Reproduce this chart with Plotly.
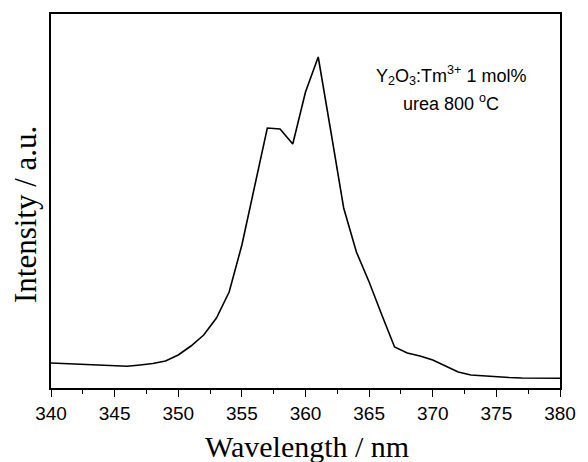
import plotly.graph_objects as go

wavelength = list(range(340, 381))
intensity = [25, 24.5, 24, 23.5, 22.5, 22, 21.7, 23, 24.5, 27,
             33, 42, 53, 70, 96, 143, 203, 260, 259, 244,
             296, 331, 256, 180, 136, 106, 73, 41, 35, 32,
             28, 22, 16, 13, 12, 11, 10.5, 10, 10, 9.7, 9.7]
x_ticks = [340, 345, 350, 355, 360, 365, 370, 375, 380]

L, R, T, B = 51, 560, 14, 388
W, H = 588, 462
pw, ph = R - L, B - T

def px(xp):
    return (xp - L) / pw

def py(yp):
    return (B - yp) / ph

fig = go.Figure()
fig.add_trace(go.Scatter(x=wavelength, y=intensity, mode="lines",
                         line=dict(color="black", width=1.6), showlegend=False))

fig.update_layout(
    width=W, height=H,
    margin=dict(l=L, r=W - R, t=T, b=H - B, autoexpand=False),
    plot_bgcolor="white", paper_bgcolor="white",
    xaxis=dict(range=[340, 380], tickvals=x_ticks, ticks="outside", ticklen=7,
               tickwidth=1.3, tickcolor="black", automargin=False,
               minor=dict(ticks="outside", ticklen=4, tickcolor="black", dtick=2.5, tick0=340, tickwidth=1.3),
               showline=True, linecolor="black", linewidth=1.5, mirror=True,
               showgrid=False, zeroline=False,
               tickfont=dict(family="Liberation Sans, Arial", size=19, color="black")),
    yaxis=dict(range=[0, 374], showticklabels=False, ticks="", automargin=False,
               showline=True, linecolor="black", linewidth=1.5, mirror=True,
               showgrid=False, zeroline=False),
)

fig.add_annotation(xref="paper", yref="paper", x=px(307), y=py(446), xanchor="center", yanchor="middle",
                   text="Wavelength / nm", showarrow=False,
                   font=dict(family="Liberation Serif, Times New Roman", size=30, color="black"))
fig.add_annotation(xref="paper", yref="paper", x=px(26), y=py(215), xanchor="center", yanchor="middle",
                   text="Intensity / a.u.", textangle=-90, showarrow=False,
                   font=dict(family="Liberation Serif, Times New Roman", size=31, color="black"))

sans = dict(family="Liberation Sans, Arial", size=18, color="black")
fig.add_annotation(xref="paper", yref="paper", x=px(451), y=py(75), xanchor="center", yanchor="middle",
                   text="Y<sub>2</sub>O<sub>3</sub>:Tm<sup>3+</sup> 1 mol%", showarrow=False, font=sans)
fig.add_annotation(xref="paper", yref="paper", x=px(451), y=py(103), xanchor="center", yanchor="middle",
                   text="urea 800 <sup>o</sup>C", showarrow=False, font=sans)

fig.write_html("out.html", config={"displayModeBar": False},
               post_script="document.body.style.margin='0';document.body.style.overflow='hidden';")
